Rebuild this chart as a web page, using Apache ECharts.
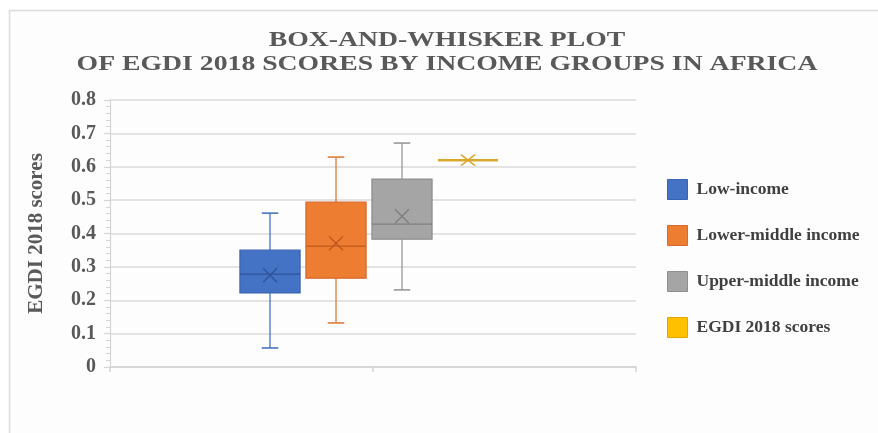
<!DOCTYPE html>
<html>
<head>
<meta charset="utf-8">
<script src="https://cdn.jsdelivr.net/npm/echarts@6/dist/echarts.min.js"></script>
<style>
  html, body { margin: 0; padding: 0; background: #ffffff; }
  #chart { width: 878px; height: 433px; }
</style>
</head>
<body>
<div id="chart"></div>
<script>
// EGDI 2018 score distribution by income group (Africa)
const titleLines = ['BOX-AND-WHISKER PLOT', 'OF EGDI 2018 SCORES BY INCOME GROUPS IN AFRICA'];
const groups = ['Low-income', 'Lower-middle income', 'Upper-middle income', 'EGDI 2018 scores'];
const minVals    = [0.057, 0.132, 0.231, 0.620];
const q1Vals     = [0.222, 0.266, 0.383, 0.620];
const medianVals = [0.278, 0.362, 0.428, 0.620];
const q3Vals     = [0.350, 0.494, 0.563, 0.620];
const maxVals    = [0.461, 0.629, 0.671, 0.620];
const meanVals   = [0.275, 0.371, 0.452, 0.620];
const axisCategories = ['', ''];

// per-group drawing styles
const palette = [
  { fill: '#4472C4', border: '#3A63B2', inner: '#2F5597', whisker: '#4A72C0', legend: '#4472C4', legendBorder: '#3A63B2' },
  { fill: '#ED7D31', border: '#D8692A', inner: '#C0581F', whisker: '#E27B3A', legend: '#ED7D31', legendBorder: '#D8692A' },
  { fill: '#A5A5A5', border: '#8E8E8E', inner: '#7F7F7F', whisker: '#999999', legend: '#A5A5A5', legendBorder: '#8E8E8E' },
  { fill: '#D9A72A', border: '#D9A72A', inner: '#D9A72A', whisker: '#D9A72A', legend: '#FFC000', legendBorder: '#E0A800' }
];

const serifFamily = '"Liberation Serif", "Times New Roman", serif';
const serifBold = { fontFamily: serifFamily, fontWeight: 'bold' };

function makeRenderer(style) {
  return function (params, api) {
    const c = api.value(0);
    const pMin = api.coord([c, api.value(1)]);
    const pQ1 = api.coord([c, api.value(2)]);
    const pMed = api.coord([c, api.value(3)]);
    const pQ3 = api.coord([c, api.value(4)]);
    const pMax = api.coord([c, api.value(5)]);
    const pMean = api.coord([c, api.value(6)]);
    const band = api.size([1, 0])[0];
    const cx = pMed[0];
    const halfBox = band * 0.455;
    const halfCap = band * 0.125;
    const flat = Math.abs(pQ3[1] - pQ1[1]) < 0.5;
    const lineW = flat ? 2.2 : 1.3;
    const children = [];
    // whiskers
    children.push({ type: 'line', shape: { x1: cx, y1: pQ3[1], x2: cx, y2: pMax[1] }, style: { stroke: style.whisker, lineWidth: 1.3 } });
    children.push({ type: 'line', shape: { x1: cx, y1: pQ1[1], x2: cx, y2: pMin[1] }, style: { stroke: style.whisker, lineWidth: 1.3 } });
    if (!flat) {
      children.push({ type: 'line', shape: { x1: cx - halfCap, y1: pMax[1], x2: cx + halfCap, y2: pMax[1] }, style: { stroke: style.whisker, lineWidth: 1.6 } });
      children.push({ type: 'line', shape: { x1: cx - halfCap, y1: pMin[1], x2: cx + halfCap, y2: pMin[1] }, style: { stroke: style.whisker, lineWidth: 1.6 } });
    }
    // box
    children.push({
      type: 'rect',
      shape: { x: cx - halfBox, y: pQ3[1], width: halfBox * 2, height: pQ1[1] - pQ3[1] },
      style: { fill: style.fill, stroke: style.border, lineWidth: lineW }
    });
    // median
    children.push({ type: 'line', shape: { x1: cx - halfBox, y1: pMed[1], x2: cx + halfBox, y2: pMed[1] }, style: { stroke: style.inner, lineWidth: lineW } });
    // mean marker (X)
    const mx = 7, my = flat ? 5.5 : 7;
    children.push({ type: 'line', shape: { x1: cx - mx, y1: pMean[1] - my, x2: cx + mx, y2: pMean[1] + my }, style: { stroke: style.inner, lineWidth: 1.4 } });
    children.push({ type: 'line', shape: { x1: cx - mx, y1: pMean[1] + my, x2: cx + mx, y2: pMean[1] - my }, style: { stroke: style.inner, lineWidth: 1.4 } });
    return { type: 'group', children: children };
  };
}

const series = groups.map(function (name, i) {
  return {
    name: name,
    type: 'custom',
    xAxisIndex: 1,
    yAxisIndex: 1,
    itemStyle: { color: palette[i].legend },
    encode: { x: 0, y: [1, 2, 3, 4, 5, 6] },
    renderItem: makeRenderer(palette[i]),
    data: [[i, minVals[i], q1Vals[i], medianVals[i], q3Vals[i], maxVals[i], meanVals[i]]],
    z: 5
  };
});

// widely tracked title lines, stretched horizontally around their centre
const titleGraphics = titleLines.map(function (line, i) {
  return {
    type: 'text',
    x: 447,
    y: 40 + i * 24,
    scaleX: 1.26,
    style: {
      text: line,
      font: 'bold 22px ' + serifFamily,
      fill: '#595959',
      textAlign: 'center',
      textVerticalAlign: 'middle'
    }
  };
});

const chart = echarts.init(document.getElementById('chart'), null, { renderer: 'canvas' });
chart.setOption({
  backgroundColor: '#ffffff',
  animation: false,
  graphic: [
    { type: 'rect', z: -10, shape: { x: 9.5, y: 10.5, width: 1000, height: 1000 }, style: { fill: '#fdfdfd', stroke: '#dcdcdc', lineWidth: 1.5 } }
  ].concat(titleGraphics),
  legend: {
    orient: 'vertical',
    left: 667,
    top: 179,
    padding: 0,
    itemWidth: 20,
    itemHeight: 20,
    itemGap: 25,
    icon: 'rect',
    data: groups.map(function (g, i) {
      return { name: g, itemStyle: { color: palette[i].legend, borderColor: palette[i].legendBorder, borderWidth: 1 } };
    }),
    textStyle: Object.assign({ fontSize: 17.5, color: '#404040', padding: [0, 0, 0, 4] }, serifBold)
  },
  grid: [
    { left: 110, right: 242, top: 100, bottom: 66 },
    { left: 237, width: 264, top: 100, bottom: 66 }
  ],
  xAxis: [
    {
      type: 'category',
      gridIndex: 0,
      data: axisCategories,
      boundaryGap: true,
      axisLine: { lineStyle: { color: '#d4d4d4', width: 1.5 } },
      axisTick: { show: true, length: 5, lineStyle: { color: '#d4d4d4', width: 1.5 } },
      axisLabel: { show: false },
      splitLine: { show: false }
    },
    {
      type: 'category',
      gridIndex: 1,
      data: groups,
      boundaryGap: true,
      show: false
    }
  ],
  yAxis: [
    {
      type: 'value',
      gridIndex: 0,
      min: 0,
      max: 0.8,
      interval: 0.1,
      axisLine: { show: true, lineStyle: { color: '#d4d4d4', width: 1.2 } },
      axisTick: { show: true, length: 6, lineStyle: { color: '#d4d4d4', width: 1.2 } },
      minorTick: { show: true, splitNumber: 5, length: 4, lineStyle: { color: '#d4d4d4', width: 1 } },
      axisLabel: Object.assign({ fontSize: 20, color: '#595959', margin: 14, formatter: function (v) { return String(Math.round(v * 10) / 10); } }, serifBold),
      splitLine: { show: true, lineStyle: { color: '#dadada', width: 1.5 } },
      name: 'EGDI 2018 scores',
      nameLocation: 'middle',
      nameRotate: 90,
      nameGap: 63,
      nameTextStyle: Object.assign({ fontSize: 21, color: '#595959' }, serifBold)
    },
    {
      type: 'value',
      gridIndex: 1,
      min: 0,
      max: 0.8,
      interval: 0.1,
      show: false
    }
  ],
  series: series
});
</script>
</body>
</html>
